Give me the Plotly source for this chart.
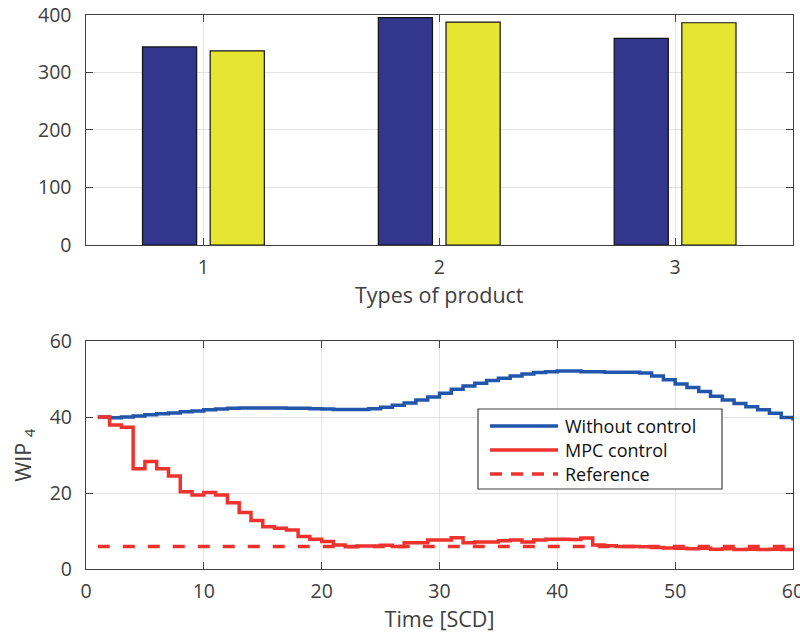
import plotly.graph_objects as go

# ---- top panel: totals per product type ----
product_types = [1, 2, 3]
series_a = [344, 395, 359]   # dark blue bars
series_b = [337, 387, 386]   # yellow bars
bar_tick_labels = ["1", "2", "3"]

# ---- bottom panel: WIP_4 over time ----
time_scd = list(range(1, 61))
wip_without_control = [
    40.0, 39.8, 40.0, 40.3, 40.6, 40.9, 41.1, 41.4, 41.6, 41.9,
    42.1, 42.3, 42.4, 42.4, 42.4, 42.4, 42.3, 42.3, 42.2, 42.1,
    42.0, 42.0, 42.0, 42.2, 42.6, 43.1, 43.7, 44.5, 45.3, 46.3,
    47.3, 48.2, 48.9, 49.6, 50.2, 50.8, 51.3, 51.7, 51.9, 52.1,
    52.1, 51.9, 51.9, 51.8, 51.8, 51.8, 51.6, 50.8, 49.8, 48.7,
    47.8, 46.7, 45.5, 44.5, 43.6, 42.7, 41.9, 41.0, 39.9, 39.1,
]
wip_mpc_control = [
    40.0, 37.9, 37.3, 26.4, 28.3, 26.4, 24.5, 20.4, 19.5, 20.2,
    19.5, 17.5, 14.9, 12.8, 11.2, 10.8, 10.3, 8.6, 7.9, 7.3,
    6.4, 5.9, 6.1, 6.1, 6.3, 6.0, 7.0, 7.0, 7.7, 7.7,
    8.3, 7.0, 7.2, 7.2, 7.5, 7.7, 7.2, 7.7, 7.9, 7.9,
    7.8, 8.2, 6.4, 6.2, 6.0, 6.0, 5.9, 5.7, 5.6, 5.5,
    5.4, 5.5, 5.3, 5.4, 5.2, 5.3, 5.2, 5.3, 5.2, 5.0,
]
wip_reference = [6.0] * 60

legend_names = ["Without control", "MPC control", "Reference"]

BAR_BLUE = "rgb(50,54,140)"
BAR_YELLOW = "rgb(230,230,50)"
LINE_BLUE = "rgb(33,86,170)"
LINE_RED = "rgb(238,50,45)"
AXIS = "#404040"
GRID = "#e3e3e3"
FONT = "Open Sans"
TICK_SIZE = 19.5
TITLE_SIZE = 21.5

fig = go.Figure()

fig.add_trace(go.Bar(x=product_types, y=series_a, marker=dict(color=BAR_BLUE, line=dict(color="#111", width=1.2)),
                     xaxis="x", yaxis="y", showlegend=False))
fig.add_trace(go.Bar(x=product_types, y=series_b, marker=dict(color=BAR_YELLOW, line=dict(color="#111", width=1.2)),
                     xaxis="x", yaxis="y", showlegend=False))

fig.add_trace(go.Scatter(x=time_scd, y=wip_without_control, mode="lines", line=dict(color=LINE_BLUE, width=3.5, shape="hv"),
                         name=legend_names[0], xaxis="x2", yaxis="y2", showlegend=False))
fig.add_trace(go.Scatter(x=time_scd, y=wip_mpc_control, mode="lines", line=dict(color=LINE_RED, width=3.5, shape="hv"),
                         name=legend_names[1], xaxis="x2", yaxis="y2", showlegend=False))
fig.add_trace(go.Scatter(x=time_scd, y=wip_reference, mode="lines", line=dict(color=LINE_RED, width=3.5, dash="12px,13px"),
                         name=legend_names[2], xaxis="x2", yaxis="y2", showlegend=False))

axis_common = dict(showline=True, linecolor=AXIS, linewidth=1.3, mirror="ticks", ticks="inside", ticklen=7,
                   tickcolor=AXIS, tickwidth=1.3, showgrid=True, gridcolor=GRID, gridwidth=1, zeroline=False,
                   ticklabeloverflow="allow", automargin=False,
                   tickfont=dict(family=FONT, size=TICK_SIZE, color=AXIS))
x_common = dict(axis_common, ticklabelstandoff=4)
y_common = dict(axis_common, ticklabelstandoff=9)
title_font = dict(family=FONT, size=TITLE_SIZE, color=AXIS)

W, H = 800, 635
def px_x(a, b):
    return [a / W, b / W]
def px_y(top, bottom):
    return [1 - bottom / H, 1 - top / H]

fig.update_layout(
    width=W, height=H, margin=dict(l=0, r=0, t=0, b=0, autoexpand=False),
    paper_bgcolor="white", plot_bgcolor="white",
    barmode="group", bargap=0.426, bargroupgap=0.2,
    font=dict(family=FONT, color=AXIS),
    xaxis=dict(x_common, domain=px_x(85.5, 793), range=[0.5, 3.5], tickvals=product_types, ticktext=bar_tick_labels,
               anchor="y", title=dict(text="Types of product", font=title_font, standoff=4)),
    yaxis=dict(y_common, domain=px_y(14.7, 245), range=[0, 400], tickvals=[0, 100, 200, 300, 400], anchor="x"),
    xaxis2=dict(x_common, domain=px_x(86, 793), range=[0, 60], tickvals=[0, 10, 20, 30, 40, 50, 60], anchor="y2",
                title=dict(text="Time [SCD]", font=title_font, standoff=4)),
    yaxis2=dict(y_common, domain=px_y(341, 569.3), range=[0, 60], tickvals=[0, 20, 40, 60], anchor="x2",
                title=dict(text="WIP <sub>4</sub>", font=title_font, standoff=12)),
)

# legend box for the bottom panel
lx0, lx1, ly0, ly1 = 478, 722, 409, 489
fig.add_shape(type="rect", xref="paper", yref="paper", x0=lx0 / W, x1=lx1 / W, y0=1 - ly1 / H, y1=1 - ly0 / H,
              line=dict(color=AXIS, width=1.2), fillcolor="white", layer="above")
rows = [426, 450, 474]
styles = [dict(color=LINE_BLUE, width=3.5), dict(color=LINE_RED, width=3.5), dict(color=LINE_RED, width=3.5, dash="12px,9px")]
for ry, st, name in zip(rows, styles, legend_names):
    fig.add_shape(type="line", xref="paper", yref="paper", x0=490 / W, x1=558 / W, y0=1 - ry / H, y1=1 - ry / H,
                  line=st, layer="above")
    fig.add_annotation(xref="paper", yref="paper", x=563 / W, y=1 - ry / H, xanchor="left", yanchor="middle",
                       text=name, showarrow=False, font=dict(family=FONT, size=18, color="#111"))

fig.write_html("out.html")
